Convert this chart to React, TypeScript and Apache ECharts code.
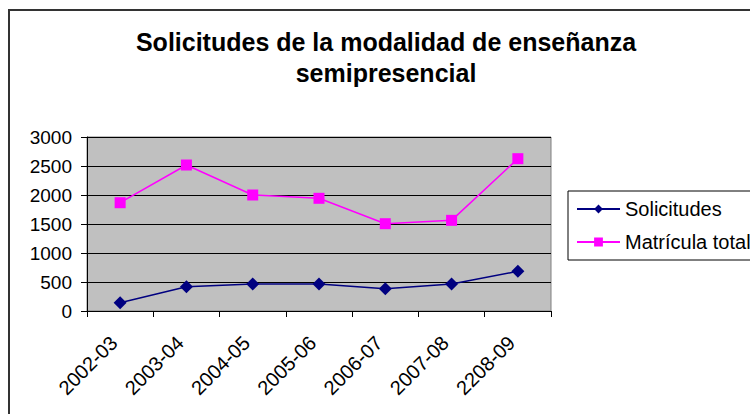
import React, { useEffect, useRef } from "react";
import * as echarts from "echarts";

const categories = ["2002-03", "2003-04", "2004-05", "2005-06", "2006-07", "2007-08", "2208-09"];
const solicitudes = [143, 419, 466, 466, 385, 466, 684];
const matricula = [1867, 2517, 2000, 1943, 1505, 1563, 2626];
const yTicks = { min: 0, max: 3000, interval: 500 };

const FONT = "Liberation Sans, Arial, sans-serif";

export default function App() {
  const ref = useRef<HTMLDivElement>(null);
  useEffect(() => {
    if (!ref.current) return;
    const chart = echarts.init(ref.current, null, { renderer: "svg" });
    chart.setOption({
      animation: false,
      backgroundColor: "#ffffff",
      textStyle: { fontFamily: FONT },
      title: {
        text: "Solicitudes de la modalidad de enseñanza\nsemipresencial",
        left: 386,
        top: 26,
        textAlign: "center",
        padding: 0,
        textStyle: { fontFamily: FONT, fontSize: 25, fontWeight: "bold", color: "#000", lineHeight: 31 },
      },
      graphic: [
        {
          type: "rect",
          shape: { x: 9, y: 10, width: 800, height: 500 },
          style: { fill: "none", stroke: "#333333", lineWidth: 2 },
          silent: true,
          z: -1,
        },
      ],
      legend: {
        orient: "vertical",
        left: 568,
        top: 191,
        padding: [8, 60, 8, 8],
        borderColor: "#000",
        borderWidth: 1,
        itemWidth: 43,
        itemHeight: 11,
        itemGap: 13,
        textStyle: { fontFamily: FONT, fontSize: 20, color: "#000" },
        data: ["Solicitudes", "Matrícula total"],
      },
      grid: {
        left: 87,
        right: 199,
        top: 137,
        bottom: 103,
        show: true,
        backgroundColor: "#C0C0C0",
        borderColor: "#808080",
        borderWidth: 1,
      },
      xAxis: {
        type: "category",
        data: categories,
        boundaryGap: true,
        axisLine: { lineStyle: { color: "#000", width: 1 } },
        axisTick: { show: true, length: 6, lineStyle: { color: "#000" } },
        axisLabel: {
          rotate: 45,
          fontSize: 20,
          color: "#000",
          fontFamily: FONT,
          margin: 22,
          interval: 0,
          padding: [0, 9, 0, 0],
        },
      },
      yAxis: {
        type: "value",
        min: yTicks.min,
        max: yTicks.max,
        interval: yTicks.interval,
        axisLine: { show: true, lineStyle: { color: "#000", width: 1 } },
        axisTick: { show: true, length: 6, lineStyle: { color: "#000" } },
        axisLabel: {
          fontSize: 19,
          color: "#000",
          fontFamily: FONT,
          margin: 15,
          formatter: (v: number) => String(v),
        },
        splitLine: { show: true, lineStyle: { color: "#000", width: 1 } },
      },
      series: [
        {
          name: "Solicitudes",
          type: "line",
          data: solicitudes,
          symbol: "diamond",
          symbolSize: 13,
          color: "#000080",
          lineStyle: { color: "#000080", width: 1.5 },
          itemStyle: { color: "#000080" },
        },
        {
          name: "Matrícula total",
          type: "line",
          data: matricula,
          symbol: "rect",
          symbolSize: 11,
          color: "#FF00FF",
          lineStyle: { color: "#FF00FF", width: 1.5 },
          itemStyle: { color: "#FF00FF" },
        },
      ],
    });
    return () => chart.dispose();
  }, []);
  return (
    <div
      ref={ref}
      style={{ position: "fixed", left: 0, top: 0, width: 750, height: 414, background: "#fff" }}
    />
  );
}
